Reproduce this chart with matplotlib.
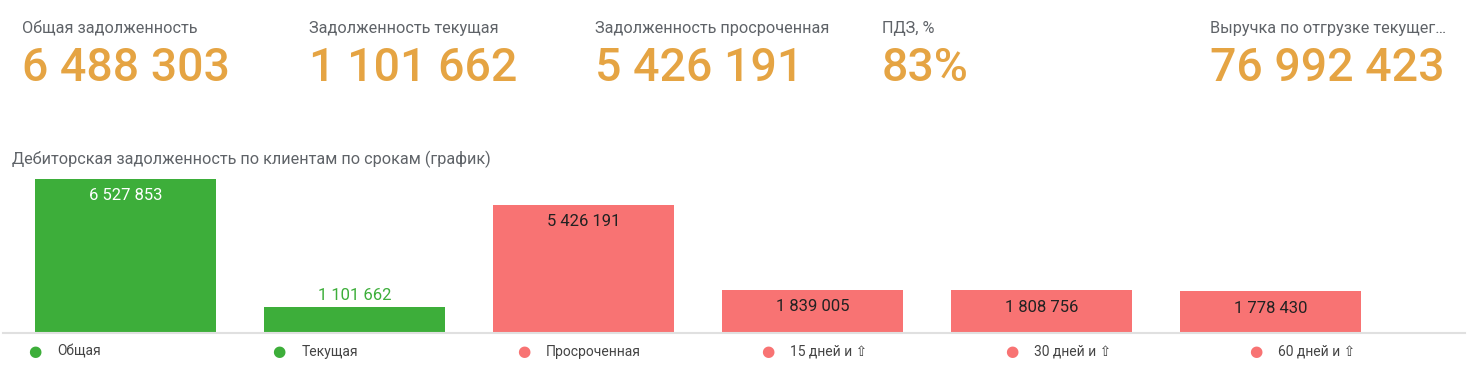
import matplotlib
matplotlib.use("Agg")
import matplotlib.pyplot as plt

plt.rcParams['font.family'] = ['Roboto', 'DejaVu Sans']

# KPI cards
kpi_titles = ['Общая задолженность', 'Задолженность текущая', 'Задолженность просроченная',
              'ПДЗ, %', 'Выручка по отгрузке текущег…']
kpi_values = ['6 488 303', '1 101 662', '5 426 191', '83%', '76 992 423']

# bar chart
chart_title = 'Дебиторская задолженность по клиентам по срокам (график)'
categories = ['Общая', 'Текущая', 'Просроченная', '15 дней и ⇧', '30 дней и ⇧', '60 дней и ⇧']
values = [6527853, 1101662, 5426191, 1839005, 1808756, 1778430]

GREEN = '#3dae3a'
RED = '#f87373'
ORANGE = '#e5a443'
bar_colors = [GREEN, GREEN, RED, RED, RED, RED]

W, H = 1471, 380
fig = plt.figure(figsize=(W / 100, H / 100), dpi=100)

kpi_x = [22, 309, 595, 882, 1210]
for x, t, v in zip(kpi_x, kpi_titles, kpi_values):
    fig.text(x / W, 1 - 28 / H, t, fontsize=11.7, color='#5f6368', va='center', ha='left')
    fig.text(x / W, 1 - 68 / H, v, fontsize=33.5, color=ORANGE, va='center', ha='left', fontweight='medium')

fig.text(12 / W, 1 - 159 / H, chart_title, fontsize=11.7, color='#5f6368', va='center', ha='left')

ax = fig.add_axes([3 / W, 1 - 333 / H, (1465 - 3) / W, (333 - 179) / H])
xs = range(len(categories))
ax.bar(xs, values, width=181 / 229, color=bar_colors)
ax.set_xlim(-122.5 / 229, (1465 - 125.5) / 229)
ax.set_ylim(0, max(values))
for s in ['top', 'right', 'left']:
    ax.spines[s].set_visible(False)
ax.spines['bottom'].set_color('#e0e0e0')
ax.spines['bottom'].set_linewidth(1.5)
ax.set_xticks([])
ax.set_yticks([])

pad = 17 / 154 * max(values)
for i, v in enumerate(values):
    txt = f'{v:,}'.replace(',', ' ')
    if i == 0:
        ax.text(i, v - pad, txt, ha='center', va='center', fontsize=12, color='white')
    elif i == 1:
        ax.text(i, v + 12 / 154 * max(values), txt, ha='center', va='center', fontsize=12, color=GREEN)
    else:
        ax.text(i, v - pad, txt, ha='center', va='center', fontsize=12, color='#222222')

# legend row
for i, (c, col) in enumerate(zip(categories, bar_colors)):
    dx = 35 + i * 244.2
    fig.text(dx / W, 1 - 352 / H, '●', fontsize=11, color=col, ha='center', va='center',
             family='DejaVu Sans')
    fig.text((dx + 22) / W, 1 - 352 / H, c, fontsize=10, color='#444444', ha='left', va='center')

fig.savefig('out.png', dpi=100)
